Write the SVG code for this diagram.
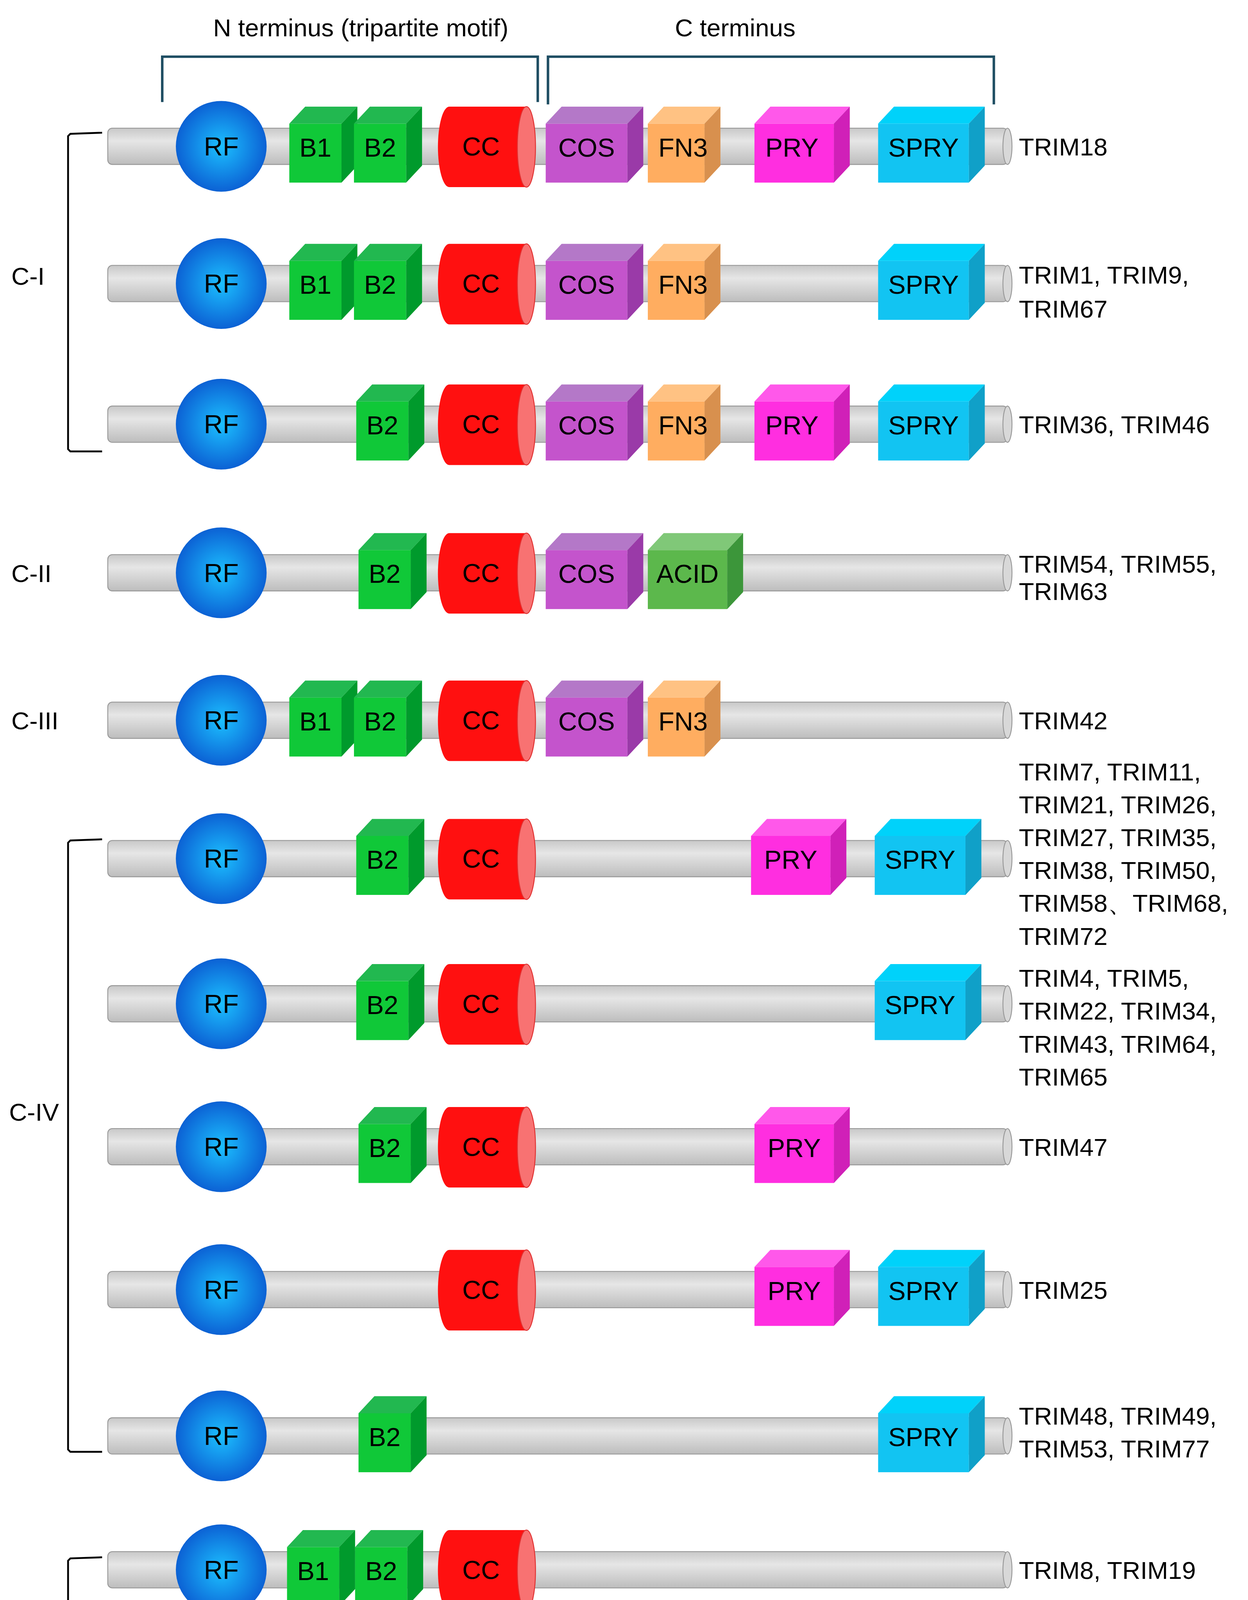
<svg xmlns="http://www.w3.org/2000/svg" xmlns:xlink="http://www.w3.org/1999/xlink" width="3194" height="4565" viewBox="0 0 3194 4565">
<style>
text{font-family:"Liberation Sans",Arial,sans-serif;fill:#000}
.lbl{font-size:23px;text-anchor:middle}
.nm{font-size:22px}
.br{fill:none;stroke:#1f4e63;stroke-width:2.2}
.lb{fill:none;stroke:#000;stroke-width:1.6}
</style>
<defs>
<linearGradient id="rod" x1="0" y1="0" x2="0" y2="1"><stop offset="0" stop-color="#c8c8c8"/><stop offset="0.35" stop-color="#e6e6e6"/><stop offset="1" stop-color="#bdbdbd"/></linearGradient>
<radialGradient id="rf" cx="0.5" cy="0.5" r="0.55"><stop offset="0" stop-color="#1cc0ff"/><stop offset="1" stop-color="#0a58d0"/></radialGradient>
<g id="B"><rect x="0" y="-20" width="46" height="52" fill="#10c838"/><polygon points="0,-20 14,-35 60,-35 46,-20" fill="#22b850"/><polygon points="46,-20 60,-35 60,17 46,32" fill="#009a2c"/></g>
<g id="COS"><rect x="0" y="-20" width="72" height="52" fill="#c454cc"/><polygon points="0,-20 14,-35 86,-35 72,-20" fill="#b478c8"/><polygon points="72,-20 86,-35 86,17 72,32" fill="#9a3aa8"/></g>
<g id="FN3"><rect x="0" y="-20" width="50" height="52" fill="#ffad60"/><polygon points="0,-20 14,-35 64,-35 50,-20" fill="#ffc283"/><polygon points="50,-20 64,-35 64,17 50,32" fill="#d8904e"/></g>
<g id="PRY"><rect x="0" y="-20" width="70" height="52" fill="#ff2ee0"/><polygon points="0,-20 14,-35 84,-35 70,-20" fill="#ff58ea"/><polygon points="70,-20 84,-35 84,17 70,32" fill="#d020b8"/></g>
<g id="SPRY"><rect x="0" y="-20" width="80" height="52" fill="#12c4f2"/><polygon points="0,-20 14,-35 94,-35 80,-20" fill="#00d2fa"/><polygon points="80,-20 94,-35 94,17 80,32" fill="#10a0c8"/></g>
<g id="ACID"><rect x="0" y="-20" width="70" height="52" fill="#5cb84c"/><polygon points="0,-20 14,-35 84,-35 70,-20" fill="#80c878"/><polygon points="70,-20 84,-35 84,17 70,32" fill="#3c963a"/></g>
<g id="ROD"><rect x="95" y="-16" width="793" height="32" rx="4" fill="url(#rod)" stroke="#999" stroke-width="0.8"/><ellipse cx="888" cy="0" rx="4" ry="16" fill="#d8d8d8" stroke="#999" stroke-width="0.8"/></g>
<g id="RF"><circle cx="195" cy="0" r="40" fill="url(#rf)"/><text class="lbl" x="195" y="8">RF</text></g>
<g id="CC"><path d="M396,-35 H464 A8,35.5 0 0 1 464,36 H396 A10,35.5 0 0 1 396,-35 Z" fill="#ff1010"/><ellipse cx="464" cy="0.5" rx="8" ry="35.5" fill="#f87272" stroke="#e03030" stroke-width="0.8"/><text class="lbl" x="424" y="8">CC</text></g>
</defs>
<g transform="scale(2.9036)">
<g id="headers">
<text x="318" y="32" style="font-size:22px;text-anchor:middle">N terminus  (tripartite motif)</text>
<text x="648" y="32" style="font-size:22px;text-anchor:middle">C terminus</text>
<polyline class="br" points="143,90 143,50 474,50 474,90"/>
<polyline class="br" points="483,92 483,50 876,50 876,92"/>
</g>
<g id="classes">
<polyline class="lb" points="90,117 62,118 60,120 60,396 62,398 90,398"/><text class="nm" x="10" y="251">C-I</text>
<text class="nm" x="10" y="513">C-II</text>
<text class="nm" x="10" y="643">C-III</text>
<polyline class="lb" points="90,740 62,741 60,743 60,1278 62,1280 90,1280"/><text class="nm" x="8" y="988">C-IV</text>
<polyline class="lb" points="90,1373 62,1374 60,1376 60,1528 62,1530 90,1530"/><text class="nm" x="8" y="1453">C-V</text>
</g>
<g id="row1" transform="translate(0,129)"><use href="#ROD"/><use href="#RF"/><use href="#B" x="255"/><text class="lbl" x="278" y="9">B1</text><use href="#B" x="312"/><text class="lbl" x="335" y="9">B2</text><use href="#CC"/><use href="#COS" x="481"/><text class="lbl" x="517" y="9">COS</text><use href="#FN3" x="571"/><text class="lbl" x="602" y="9">FN3</text><use href="#PRY" x="665"/><text class="lbl" x="698" y="9">PRY</text><use href="#SPRY" x="774"/><text class="lbl" x="814" y="9">SPRY</text><text class="nm" x="898" y="8">TRIM18</text></g>
<g id="row2" transform="translate(0,250)"><use href="#ROD"/><use href="#RF"/><use href="#B" x="255"/><text class="lbl" x="278" y="9">B1</text><use href="#B" x="312"/><text class="lbl" x="335" y="9">B2</text><use href="#CC"/><use href="#COS" x="481"/><text class="lbl" x="517" y="9">COS</text><use href="#FN3" x="571"/><text class="lbl" x="602" y="9">FN3</text><use href="#SPRY" x="774"/><text class="lbl" x="814" y="9">SPRY</text><text class="nm" x="898" y="0">TRIM1, TRIM9,</text><text class="nm" x="898" y="30">TRIM67</text></g>
<g id="row3" transform="translate(0,374)"><use href="#ROD"/><use href="#RF"/><use href="#B" x="314"/><text class="lbl" x="337" y="9">B2</text><use href="#CC"/><use href="#COS" x="481"/><text class="lbl" x="517" y="9">COS</text><use href="#FN3" x="571"/><text class="lbl" x="602" y="9">FN3</text><use href="#PRY" x="665"/><text class="lbl" x="698" y="9">PRY</text><use href="#SPRY" x="774"/><text class="lbl" x="814" y="9">SPRY</text><text class="nm" x="898" y="8">TRIM36, TRIM46</text></g>
<g id="row4" transform="translate(0,505)"><use href="#ROD"/><use href="#RF"/><use href="#B" x="316"/><text class="lbl" x="339" y="9">B2</text><use href="#CC"/><use href="#COS" x="481"/><text class="lbl" x="517" y="9">COS</text><use href="#ACID" x="571"/><text class="lbl" x="606" y="9">ACID</text><text class="nm" x="898" y="0">TRIM54, TRIM55,</text><text class="nm" x="898" y="24">TRIM63</text></g>
<g id="row5" transform="translate(0,635)"><use href="#ROD"/><use href="#RF"/><use href="#B" x="255"/><text class="lbl" x="278" y="9">B1</text><use href="#B" x="312"/><text class="lbl" x="335" y="9">B2</text><use href="#CC"/><use href="#COS" x="481"/><text class="lbl" x="517" y="9">COS</text><use href="#FN3" x="571"/><text class="lbl" x="602" y="9">FN3</text><text class="nm" x="898" y="8">TRIM42</text></g>
<g id="row6" transform="translate(0,757)"><use href="#ROD"/><use href="#RF"/><use href="#B" x="314"/><text class="lbl" x="337" y="9">B2</text><use href="#CC"/><use href="#PRY" x="662"/><text class="lbl" x="697" y="9">PRY</text><use href="#SPRY" x="771"/><text class="lbl" x="811" y="9">SPRY</text>
<text class="nm" x="898" y="-69">TRIM7, TRIM11,</text><text class="nm" x="898" y="-40">TRIM21, TRIM26,</text><text class="nm" x="898" y="-11">TRIM27, TRIM35,</text><text class="nm" x="898" y="18">TRIM38, TRIM50,</text><text class="nm" x="898" y="47">TRIM58、TRIM68,</text><text class="nm" x="898" y="76">TRIM72</text></g>
<g id="row7" transform="translate(0,885)"><use href="#ROD"/><use href="#RF"/><use href="#B" x="314"/><text class="lbl" x="337" y="9">B2</text><use href="#CC"/><use href="#SPRY" x="771"/><text class="lbl" x="811" y="9">SPRY</text>
<text class="nm" x="898" y="-15">TRIM4, TRIM5,</text><text class="nm" x="898" y="14">TRIM22, TRIM34,</text><text class="nm" x="898" y="43">TRIM43, TRIM64,</text><text class="nm" x="898" y="72">TRIM65</text></g>
<g id="row8" transform="translate(0,1011)"><use href="#ROD"/><use href="#RF"/><use href="#B" x="316"/><text class="lbl" x="339" y="9">B2</text><use href="#CC"/><use href="#PRY" x="665"/><text class="lbl" x="700" y="9">PRY</text><text class="nm" x="898" y="8">TRIM47</text></g>
<g id="row9" transform="translate(0,1137)"><use href="#ROD"/><use href="#RF"/><use href="#CC"/><use href="#PRY" x="665"/><text class="lbl" x="700" y="9">PRY</text><use href="#SPRY" x="774"/><text class="lbl" x="814" y="9">SPRY</text><text class="nm" x="898" y="8">TRIM25</text></g>
<g id="row10" transform="translate(0,1266)"><use href="#ROD"/><use href="#RF"/><use href="#B" x="316"/><text class="lbl" x="339" y="9">B2</text><use href="#SPRY" x="774"/><text class="lbl" x="814" y="9">SPRY</text><text class="nm" x="898" y="-10">TRIM48, TRIM49,</text><text class="nm" x="898" y="19">TRIM53, TRIM77</text></g>
<g id="row11" transform="translate(0,1384)"><use href="#ROD"/><use href="#RF"/><use href="#B" x="253"/><text class="lbl" x="276" y="9">B1</text><use href="#B" x="313"/><text class="lbl" x="336" y="9">B2</text><use href="#CC"/><text class="nm" x="898" y="8">TRIM8, TRIM19</text></g>
<g id="row12" transform="translate(0,1516)"><use href="#ROD"/><use href="#RF"/><use href="#B" x="316"/><text class="lbl" x="339" y="9">B2</text><use href="#CC"/><text class="nm" x="898" y="8">TRIM31, TRIM40</text></g>
</g>
</svg>
